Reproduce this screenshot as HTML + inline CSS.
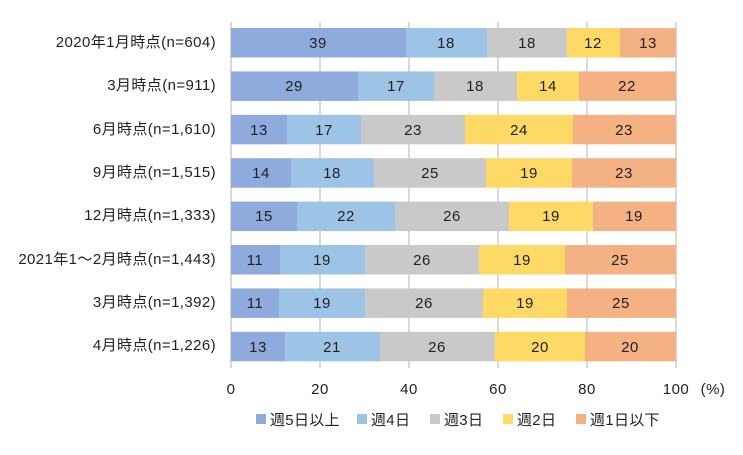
<!DOCTYPE html><html><head><meta charset="utf-8"><style>
body{margin:0;background:#fff;}
svg text{font-family:"Liberation Sans","Noto Sans CJK JP",sans-serif;fill:#222;}
.a{fill:#8faadc}.b{fill:#9dc3e6}.c{fill:#c9c9c9}.d{fill:#ffd966}.e{fill:#f4b183}
</style></head><body>
<svg width="743" height="450" xmlns="http://www.w3.org/2000/svg">
<g stroke="#d9d9d9" stroke-width="2">
<line x1="320" y1="22" x2="320" y2="368"/><line x1="409" y1="22" x2="409" y2="368"/>
<line x1="498" y1="22" x2="498" y2="368"/><line x1="587" y1="22" x2="587" y2="368"/>
<line x1="676" y1="22" x2="676" y2="368"/><line x1="231" y1="22" x2="231" y2="368"/>
</g>
<g>
<rect class="a" x="231" y="28" width="175" height="29.5"/><rect class="b" x="406" y="28" width="81" height="29.5"/><rect class="c" x="487" y="28" width="80" height="29.5"/><rect class="d" x="567" y="28" width="53" height="29.5"/><rect class="e" x="620" y="28" width="56" height="29.5"/>
<rect class="a" x="231" y="71.4" width="127" height="29.5"/><rect class="b" x="358" y="71.4" width="76" height="29.5"/><rect class="c" x="434" y="71.4" width="83" height="29.5"/><rect class="d" x="517" y="71.4" width="62" height="29.5"/><rect class="e" x="579" y="71.4" width="97" height="29.5"/>
<rect class="a" x="231" y="114.8" width="56" height="29.5"/><rect class="b" x="287" y="114.8" width="74" height="29.5"/><rect class="c" x="361" y="114.8" width="104" height="29.5"/><rect class="d" x="465" y="114.8" width="108" height="29.5"/><rect class="e" x="573" y="114.8" width="103" height="29.5"/>
<rect class="a" x="231" y="158.2" width="60" height="29.5"/><rect class="b" x="291" y="158.2" width="83" height="29.5"/><rect class="c" x="374" y="158.2" width="112" height="29.5"/><rect class="d" x="486" y="158.2" width="86" height="29.5"/><rect class="e" x="572" y="158.2" width="104" height="29.5"/>
<rect class="a" x="231" y="201.6" width="66" height="29.5"/><rect class="b" x="297" y="201.6" width="98" height="29.5"/><rect class="c" x="395" y="201.6" width="114" height="29.5"/><rect class="d" x="509" y="201.6" width="84" height="29.5"/><rect class="e" x="593" y="201.6" width="83" height="29.5"/>
<rect class="a" x="231" y="245" width="49" height="29.5"/><rect class="b" x="280" y="245" width="85" height="29.5"/><rect class="c" x="365" y="245" width="114" height="29.5"/><rect class="d" x="479" y="245" width="86" height="29.5"/><rect class="e" x="565" y="245" width="111" height="29.5"/>
<rect class="a" x="231" y="288.4" width="48" height="29.5"/><rect class="b" x="279" y="288.4" width="86" height="29.5"/><rect class="c" x="365" y="288.4" width="118" height="29.5"/><rect class="d" x="483" y="288.4" width="84" height="29.5"/><rect class="e" x="567" y="288.4" width="109" height="29.5"/>
<rect class="a" x="231" y="331.8" width="54" height="29.5"/><rect class="b" x="285" y="331.8" width="95" height="29.5"/><rect class="c" x="380" y="331.8" width="115" height="29.5"/><rect class="d" x="495" y="331.8" width="90" height="29.5"/><rect class="e" x="585" y="331.8" width="91" height="29.5"/>
</g>
<g font-size="15" text-anchor="middle" letter-spacing="0.5">
<text x="318" y="48">39</text><text x="446" y="48">18</text><text x="527" y="48">18</text><text x="593" y="48">12</text><text x="648" y="48">13</text>
<text x="294" y="91">29</text><text x="396" y="91">17</text><text x="475" y="91">18</text><text x="548" y="91">14</text><text x="627" y="91">22</text>
<text x="259" y="135">13</text><text x="324" y="135">17</text><text x="413" y="135">23</text><text x="519" y="135">24</text><text x="624" y="135">23</text>
<text x="261" y="178">14</text><text x="332" y="178">18</text><text x="430" y="178">25</text><text x="529" y="178">19</text><text x="624" y="178">23</text>
<text x="264" y="221">15</text><text x="346" y="221">22</text><text x="452" y="221">26</text><text x="551" y="221">19</text><text x="634" y="221">19</text>
<text x="255" y="265">11</text><text x="322" y="265">19</text><text x="422" y="265">26</text><text x="522" y="265">19</text><text x="620" y="265">25</text>
<text x="255" y="308">11</text><text x="322" y="308">19</text><text x="424" y="308">26</text><text x="525" y="308">19</text><text x="621" y="308">25</text>
<text x="258" y="352">13</text><text x="332" y="352">21</text><text x="437" y="352">26</text><text x="540" y="352">20</text><text x="630" y="352">20</text>
</g>
<g font-size="15" text-anchor="middle" letter-spacing="0.5">
<text x="231" y="394">0</text><text x="320" y="394">20</text><text x="409" y="394">40</text>
<text x="498" y="394">60</text><text x="587" y="394">80</text><text x="676" y="394">100</text>
<text x="713" y="394">(%)</text>
</g>
<g font-size="15" letter-spacing="0.3">
<rect class="a" x="256" y="414" width="10" height="10"/><text x="270" y="425">週5日以上</text>
<rect class="b" x="357" y="414" width="10" height="10"/><text x="371" y="425">週4日</text>
<rect class="c" x="430" y="414" width="10" height="10"/><text x="444" y="425">週3日</text>
<rect class="d" x="503" y="414" width="10" height="10"/><text x="517" y="425">週2日</text>
<rect class="e" x="576" y="414" width="10" height="10"/><text x="590" y="425">週1日以下</text>
</g>
<g font-size="15" text-anchor="end" letter-spacing="0.4">
<text x="216" y="47">2020年1月時点(n=604)</text>
<text x="216" y="90">3月時点(n=911)</text>
<text x="216" y="134">6月時点(n=1,610)</text>
<text x="216" y="177">9月時点(n=1,515)</text>
<text x="216" y="220">12月時点(n=1,333)</text>
<text x="216" y="264">2021年1～2月時点(n=1,443)</text>
<text x="216" y="307">3月時点(n=1,392)</text>
<text x="216" y="350">4月時点(n=1,226)</text>
</g>
</svg>
</body></html>
